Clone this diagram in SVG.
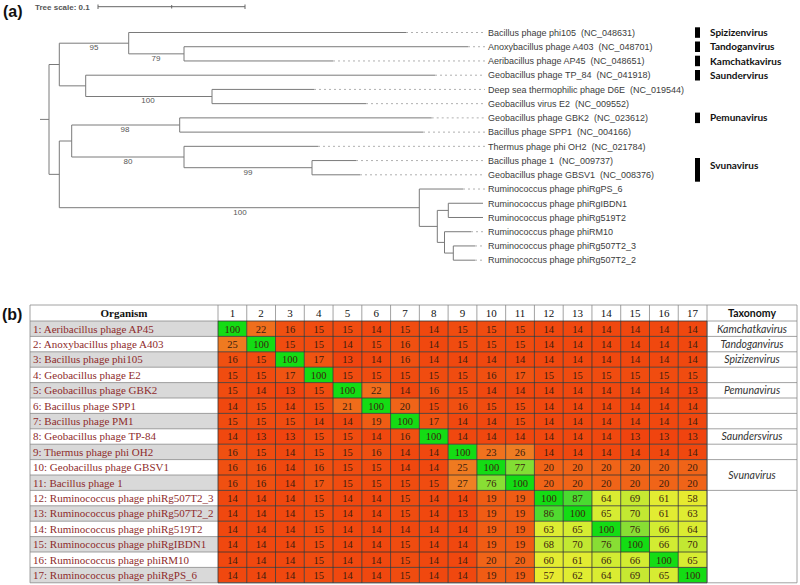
<svg xmlns="http://www.w3.org/2000/svg" width="800" height="585" viewBox="0 0 800 585">
<style>
.pl{font:bold 16px "Liberation Sans",Arial,sans-serif;fill:#111}
.br{fill:none;stroke:#7a7a7a;stroke-width:1}
.dot{fill:none;stroke:#b0b0b0;stroke-width:1;stroke-dasharray:2 3}
.lf{font:9px "Liberation Sans",Arial,sans-serif;fill:#3c3c3c;white-space:pre}
.sp{font:8px "Liberation Sans",Arial,sans-serif;fill:#555;text-anchor:middle}
.tx{font:bold 10px Lato,"Liberation Sans",sans-serif;fill:#111}
.org{font:11px "Liberation Serif","Times New Roman",serif;fill:#8e2b2b}
.hd{font:11px "Liberation Serif","Times New Roman",serif;fill:#111;text-anchor:middle}
.hdb{font-weight:bold}
.num{font:10.5px "Liberation Serif","Times New Roman",serif;fill:#3b1d0e;text-anchor:middle}
.tax{font:italic 10.5px Lato,"Liberation Sans",sans-serif;fill:#333;text-anchor:middle}
.taxh{font:bold 10.5px Lato,"Liberation Sans",sans-serif;fill:#111;text-anchor:middle}
.gray{fill:#d9d9d9}
.k13{fill:#f0440f}.k14{fill:#f0480f}.k15{fill:#f04c10}.k16{fill:#f05011}.k17{fill:#f05412}
.k19{fill:#f05c14}.k20{fill:#f06418}.k21{fill:#f06c1a}.k22{fill:#f06e1c}.k23{fill:#f0721e}
.k25{fill:#ef7a20}.k26{fill:#ef7c22}.k27{fill:#ef8024}
.k57{fill:#e8ea30}.k58{fill:#e6ea30}.k60{fill:#e4ec32}.k61{fill:#e2ec32}.k62{fill:#e0ec32}
.k63{fill:#deec32}.k64{fill:#daec32}.k65{fill:#d6ec32}.k66{fill:#d2ec32}.k68{fill:#cae832}
.k69{fill:#c6e832}.k70{fill:#c2e832}.k76{fill:#88de34}.k77{fill:#82de34}.k86{fill:#50da30}
.k87{fill:#4ada30}.k100{fill:#14dc14}
.gd{fill:none;stroke:#333;stroke-width:0.8}
.gl{fill:none;stroke:#8a8a8a;stroke-width:0.8}
</style>

<!-- Panel (a) -->
<text class="pl" x="3" y="17">(a)</text>
<g id="scale">
<text x="35" y="10" style="font:bold 8px 'Liberation Sans',Arial,sans-serif;fill:#555">Tree scale: 0.1</text>
<path d="M98,6.7H245M98,4.5V9M171.7,5V8.5M245,4.5V9" fill="none" stroke="#666" stroke-width="1"/>
</g>

<g id="connectors">
<path class="br" d="M40,119.4H49M49,64.5V174.35
M49,64.5H59.3M59.3,43.2V85.85
M59.3,43.2H128.7M128.7,32.5V53.85M128.7,32.5H406
M128.7,53.85H184M184,46.73V60.96M184,46.73H468M184,60.96H333
M59.3,85.85H85.7M85.7,75.19V96.5M85.7,75.19H435
M85.7,96.5H212M212,89.42V103.65M212,89.42H314M212,103.65H366
M49,174.35H59.3M59.3,141V207.7
M59.3,141H71.7M71.7,125V157
M71.7,125H179.7M179.7,117.88V132.11M179.7,117.88H431.7M179.7,132.11H423
M71.7,157H184M184,146.34V167.7M184,146.34H318
M184,167.7H312M312,160.57V174.8M312,160.57H356M312,174.8H360
M59.3,207.7H419.3M419.3,189.03V226.4M419.3,189.03H463
M419.3,226.4H437.3M437.3,210.4V242.4
M437.3,210.4H448.3M448.3,203.26V217.49M448.3,203.26H483M448.3,217.49H483
M437.3,242.4H444.5M444.5,231.72V253.07M444.5,231.72H471
M444.5,253.07H453.3M453.3,245.95V260.18M453.3,245.95H475M453.3,260.18H475"/>
<path class="dot" d="M406,32.5H485M468,46.73H485M333,60.96H485M435,75.19H485M314,89.42H485M366,103.65H485M431.7,117.88H485M423,132.11H485M318,146.34H485M356,160.57H485M360,174.8H485M463,189.03H485M471,231.72H485M475,245.95H485M475,260.18H485"/>
</g>

<g id="supports">
<text class="sp" x="94" y="50">95</text>
<text class="sp" x="156" y="60.5">79</text>
<text class="sp" x="148" y="103">100</text>
<text class="sp" x="125" y="131.8">98</text>
<text class="sp" x="128" y="164">80</text>
<text class="sp" x="248" y="175">99</text>
<text class="sp" x="240" y="214.6">100</text>
</g>

<g id="leaves">
<g id="leaf1"><text class="lf" x="488" y="35.7">Bacillus phage phi105  (NC_048631)</text></g>
<g id="leaf2"><text class="lf" x="488" y="49.9">Anoxybacillus phage A403  (NC_048701)</text></g>
<g id="leaf3"><text class="lf" x="488" y="64.2">Aeribacillus phage AP45  (NC_048651)</text></g>
<g id="leaf4"><text class="lf" x="488" y="78.4">Geobacillus phage TP_84  (NC_041918)</text></g>
<g id="leaf5"><text class="lf" x="488" y="92.6">Deep sea thermophilic phage D6E  (NC_019544)</text></g>
<g id="leaf6"><text class="lf" x="488" y="106.9">Geobacillus virus E2  (NC_009552)</text></g>
<g id="leaf7"><text class="lf" x="488" y="121.1">Geobacillus phage GBK2  (NC_023612)</text></g>
<g id="leaf8"><text class="lf" x="488" y="135.3">Bacillus phage SPP1  (NC_004166)</text></g>
<g id="leaf9"><text class="lf" x="488" y="149.5">Thermus phage phi OH2  (NC_021784)</text></g>
<g id="leaf10"><text class="lf" x="488" y="163.8">Bacillus phage 1  (NC_009737)</text></g>
<g id="leaf11"><text class="lf" x="488" y="178">Geobacillus phage GBSV1  (NC_008376)</text></g>
<g id="leaf12"><text class="lf" x="488" y="192.2">Ruminococcus phage phiRgPS_6</text></g>
<g id="leaf13"><text class="lf" x="488" y="206.5">Ruminococcus phage phiRgIBDN1</text></g>
<g id="leaf14"><text class="lf" x="488" y="220.7">Ruminococcus phage phiRg519T2</text></g>
<g id="leaf15"><text class="lf" x="488" y="234.9">Ruminococcus phage phiRM10</text></g>
<g id="leaf16"><text class="lf" x="488" y="249.2">Ruminococcus phage phiRg507T2_3</text></g>
<g id="leaf17"><text class="lf" x="488" y="263.4">Ruminococcus phage phiRg507T2_2</text></g>
</g>

<g id="genera">
<g id="g-spiz"><rect x="695" y="27.3" width="5" height="10.5" fill="#000"/><text class="tx" x="710" y="36">Spizizenvirus</text></g>
<g id="g-tand"><rect x="695" y="41.5" width="5" height="10.5" fill="#000"/><text class="tx" x="710" y="50.2">Tandoganvirus</text></g>
<g id="g-kamc"><rect x="695" y="55.7" width="5" height="10.5" fill="#000"/><text class="tx" x="710" y="64.5">Kamchatkavirus</text></g>
<g id="g-saun"><rect x="695" y="70" width="5" height="10.5" fill="#000"/><text class="tx" x="710" y="78.7">Saundervirus</text></g>
<g id="g-pemu"><rect x="695" y="112.6" width="5" height="10.5" fill="#000"/><text class="tx" x="710" y="121.4">Pemunavirus</text></g>
<g id="g-svun"><rect x="695" y="158" width="5" height="23.7" fill="#000"/><text class="tx" x="710" y="168.5">Svunavirus</text></g>
</g>

<!-- Panel (b) -->
<text class="pl" x="2" y="320">(b)</text>
<g id="table">
<rect x="30" y="305" width="767" height="277.8" fill="#fff"/>
<g id="header">
<text class="hd hdb" x="124" y="317">Organism</text>
<text class="hd" y="317"><tspan x="232.4">1</tspan><tspan x="261.1">2</tspan><tspan x="289.9">3</tspan><tspan x="318.7">4</tspan><tspan x="347.4">5</tspan><tspan x="376.2">6</tspan><tspan x="405">7</tspan><tspan x="433.7">8</tspan><tspan x="462.5">9</tspan><tspan x="491.3">10</tspan><tspan x="520">11</tspan><tspan x="548.8">12</tspan><tspan x="577.6">13</tspan><tspan x="606.3">14</tspan><tspan x="635.1">15</tspan><tspan x="663.9">16</tspan><tspan x="692.6">17</tspan></text>
<text class="taxh" x="752" y="317">Taxonomy</text>
</g>

<g id="row1" transform="translate(0,321)">
<rect class="gray" x="30" width="188" height="15.4"/>
<rect x="218" width="28.8" height="15.4" class="k100"/><rect x="246.76" width="28.8" height="15.4" class="k22"/><rect x="275.53" width="28.8" height="15.4" class="k16"/><rect x="304.29" width="28.8" height="15.4" class="k15"/><rect x="333.06" width="28.8" height="15.4" class="k15"/><rect x="361.82" width="28.8" height="15.4" class="k14"/><rect x="390.59" width="28.8" height="15.4" class="k15"/><rect x="419.35" width="28.8" height="15.4" class="k14"/><rect x="448.12" width="28.8" height="15.4" class="k15"/><rect x="476.88" width="28.8" height="15.4" class="k15"/><rect x="505.65" width="28.8" height="15.4" class="k15"/><rect x="534.41" width="28.8" height="15.4" class="k14"/><rect x="563.18" width="28.8" height="15.4" class="k14"/><rect x="591.94" width="28.8" height="15.4" class="k14"/><rect x="620.71" width="28.8" height="15.4" class="k14"/><rect x="649.47" width="28.8" height="15.4" class="k14"/><rect x="678.24" width="28.8" height="15.4" class="k14"/>
<text class="org" x="33" y="11.5">1: Aeribacillus phage AP45</text>
<text class="num" y="11.5"><tspan x="232.4">100</tspan><tspan x="261.1">22</tspan><tspan x="289.9">16</tspan><tspan x="318.7">15</tspan><tspan x="347.4">15</tspan><tspan x="376.2">14</tspan><tspan x="405">15</tspan><tspan x="433.7">14</tspan><tspan x="462.5">15</tspan><tspan x="491.3">15</tspan><tspan x="520">15</tspan><tspan x="548.8">14</tspan><tspan x="577.6">14</tspan><tspan x="606.3">14</tspan><tspan x="635.1">14</tspan><tspan x="663.9">14</tspan><tspan x="692.6">14</tspan></text>
<text class="tax" x="752" y="11.5">Kamchatkavirus</text>
</g>

<g id="row2" transform="translate(0,336.4)">
<rect x="218" width="28.8" height="15.4" class="k25"/><rect x="246.76" width="28.8" height="15.4" class="k100"/><rect x="275.53" width="28.8" height="15.4" class="k15"/><rect x="304.29" width="28.8" height="15.4" class="k15"/><rect x="333.06" width="28.8" height="15.4" class="k14"/><rect x="361.82" width="28.8" height="15.4" class="k15"/><rect x="390.59" width="28.8" height="15.4" class="k16"/><rect x="419.35" width="28.8" height="15.4" class="k14"/><rect x="448.12" width="28.8" height="15.4" class="k15"/><rect x="476.88" width="28.8" height="15.4" class="k15"/><rect x="505.65" width="28.8" height="15.4" class="k15"/><rect x="534.41" width="28.8" height="15.4" class="k14"/><rect x="563.18" width="28.8" height="15.4" class="k14"/><rect x="591.94" width="28.8" height="15.4" class="k14"/><rect x="620.71" width="28.8" height="15.4" class="k14"/><rect x="649.47" width="28.8" height="15.4" class="k14"/><rect x="678.24" width="28.8" height="15.4" class="k14"/>
<text class="org" x="33" y="11.5">2: Anoxybacillus phage A403</text>
<text class="num" y="11.5"><tspan x="232.4">25</tspan><tspan x="261.1">100</tspan><tspan x="289.9">15</tspan><tspan x="318.7">15</tspan><tspan x="347.4">14</tspan><tspan x="376.2">15</tspan><tspan x="405">16</tspan><tspan x="433.7">14</tspan><tspan x="462.5">15</tspan><tspan x="491.3">15</tspan><tspan x="520">15</tspan><tspan x="548.8">14</tspan><tspan x="577.6">14</tspan><tspan x="606.3">14</tspan><tspan x="635.1">14</tspan><tspan x="663.9">14</tspan><tspan x="692.6">14</tspan></text>
<text class="tax" x="752" y="11.5">Tandoganvirus</text>
</g>

<g id="row3" transform="translate(0,351.8)">
<rect class="gray" x="30" width="188" height="15.4"/>
<rect x="218" width="28.8" height="15.4" class="k16"/><rect x="246.76" width="28.8" height="15.4" class="k15"/><rect x="275.53" width="28.8" height="15.4" class="k100"/><rect x="304.29" width="28.8" height="15.4" class="k17"/><rect x="333.06" width="28.8" height="15.4" class="k13"/><rect x="361.82" width="28.8" height="15.4" class="k14"/><rect x="390.59" width="28.8" height="15.4" class="k16"/><rect x="419.35" width="28.8" height="15.4" class="k14"/><rect x="448.12" width="28.8" height="15.4" class="k14"/><rect x="476.88" width="28.8" height="15.4" class="k14"/><rect x="505.65" width="28.8" height="15.4" class="k14"/><rect x="534.41" width="28.8" height="15.4" class="k14"/><rect x="563.18" width="28.8" height="15.4" class="k14"/><rect x="591.94" width="28.8" height="15.4" class="k14"/><rect x="620.71" width="28.8" height="15.4" class="k14"/><rect x="649.47" width="28.8" height="15.4" class="k14"/><rect x="678.24" width="28.8" height="15.4" class="k14"/>
<text class="org" x="33" y="11.5">3: Bacillus phage phi105</text>
<text class="num" y="11.5"><tspan x="232.4">16</tspan><tspan x="261.1">15</tspan><tspan x="289.9">100</tspan><tspan x="318.7">17</tspan><tspan x="347.4">13</tspan><tspan x="376.2">14</tspan><tspan x="405">16</tspan><tspan x="433.7">14</tspan><tspan x="462.5">14</tspan><tspan x="491.3">14</tspan><tspan x="520">14</tspan><tspan x="548.8">14</tspan><tspan x="577.6">14</tspan><tspan x="606.3">14</tspan><tspan x="635.1">14</tspan><tspan x="663.9">14</tspan><tspan x="692.6">14</tspan></text>
<text class="tax" x="752" y="11.5">Spizizenvirus</text>
</g>

<g id="row4" transform="translate(0,367.2)">
<rect x="218" width="28.8" height="15.4" class="k15"/><rect x="246.76" width="28.8" height="15.4" class="k15"/><rect x="275.53" width="28.8" height="15.4" class="k17"/><rect x="304.29" width="28.8" height="15.4" class="k100"/><rect x="333.06" width="28.8" height="15.4" class="k15"/><rect x="361.82" width="28.8" height="15.4" class="k15"/><rect x="390.59" width="28.8" height="15.4" class="k15"/><rect x="419.35" width="28.8" height="15.4" class="k15"/><rect x="448.12" width="28.8" height="15.4" class="k15"/><rect x="476.88" width="28.8" height="15.4" class="k16"/><rect x="505.65" width="28.8" height="15.4" class="k17"/><rect x="534.41" width="28.8" height="15.4" class="k15"/><rect x="563.18" width="28.8" height="15.4" class="k15"/><rect x="591.94" width="28.8" height="15.4" class="k15"/><rect x="620.71" width="28.8" height="15.4" class="k15"/><rect x="649.47" width="28.8" height="15.4" class="k15"/><rect x="678.24" width="28.8" height="15.4" class="k15"/>
<text class="org" x="33" y="11.5">4: Geobacillus phage E2</text>
<text class="num" y="11.5"><tspan x="232.4">15</tspan><tspan x="261.1">15</tspan><tspan x="289.9">17</tspan><tspan x="318.7">100</tspan><tspan x="347.4">15</tspan><tspan x="376.2">15</tspan><tspan x="405">15</tspan><tspan x="433.7">15</tspan><tspan x="462.5">15</tspan><tspan x="491.3">16</tspan><tspan x="520">17</tspan><tspan x="548.8">15</tspan><tspan x="577.6">15</tspan><tspan x="606.3">15</tspan><tspan x="635.1">15</tspan><tspan x="663.9">15</tspan><tspan x="692.6">15</tspan></text>
</g>

<g id="row5" transform="translate(0,382.6)">
<rect class="gray" x="30" width="188" height="15.4"/>
<rect x="218" width="28.8" height="15.4" class="k15"/><rect x="246.76" width="28.8" height="15.4" class="k14"/><rect x="275.53" width="28.8" height="15.4" class="k13"/><rect x="304.29" width="28.8" height="15.4" class="k15"/><rect x="333.06" width="28.8" height="15.4" class="k100"/><rect x="361.82" width="28.8" height="15.4" class="k22"/><rect x="390.59" width="28.8" height="15.4" class="k14"/><rect x="419.35" width="28.8" height="15.4" class="k16"/><rect x="448.12" width="28.8" height="15.4" class="k15"/><rect x="476.88" width="28.8" height="15.4" class="k14"/><rect x="505.65" width="28.8" height="15.4" class="k14"/><rect x="534.41" width="28.8" height="15.4" class="k14"/><rect x="563.18" width="28.8" height="15.4" class="k14"/><rect x="591.94" width="28.8" height="15.4" class="k14"/><rect x="620.71" width="28.8" height="15.4" class="k14"/><rect x="649.47" width="28.8" height="15.4" class="k14"/><rect x="678.24" width="28.8" height="15.4" class="k13"/>
<text class="org" x="33" y="11.5">5: Geobacillus phage GBK2</text>
<text class="num" y="11.5"><tspan x="232.4">15</tspan><tspan x="261.1">14</tspan><tspan x="289.9">13</tspan><tspan x="318.7">15</tspan><tspan x="347.4">100</tspan><tspan x="376.2">22</tspan><tspan x="405">14</tspan><tspan x="433.7">16</tspan><tspan x="462.5">15</tspan><tspan x="491.3">14</tspan><tspan x="520">14</tspan><tspan x="548.8">14</tspan><tspan x="577.6">14</tspan><tspan x="606.3">14</tspan><tspan x="635.1">14</tspan><tspan x="663.9">14</tspan><tspan x="692.6">13</tspan></text>
<text class="tax" x="752" y="11.5">Pemunavirus</text>
</g>

<g id="row6" transform="translate(0,398)">
<rect x="218" width="28.8" height="15.4" class="k14"/><rect x="246.76" width="28.8" height="15.4" class="k15"/><rect x="275.53" width="28.8" height="15.4" class="k14"/><rect x="304.29" width="28.8" height="15.4" class="k15"/><rect x="333.06" width="28.8" height="15.4" class="k21"/><rect x="361.82" width="28.8" height="15.4" class="k100"/><rect x="390.59" width="28.8" height="15.4" class="k20"/><rect x="419.35" width="28.8" height="15.4" class="k15"/><rect x="448.12" width="28.8" height="15.4" class="k16"/><rect x="476.88" width="28.8" height="15.4" class="k15"/><rect x="505.65" width="28.8" height="15.4" class="k15"/><rect x="534.41" width="28.8" height="15.4" class="k14"/><rect x="563.18" width="28.8" height="15.4" class="k14"/><rect x="591.94" width="28.8" height="15.4" class="k14"/><rect x="620.71" width="28.8" height="15.4" class="k14"/><rect x="649.47" width="28.8" height="15.4" class="k14"/><rect x="678.24" width="28.8" height="15.4" class="k14"/>
<text class="org" x="33" y="11.5">6: Bacillus phage SPP1</text>
<text class="num" y="11.5"><tspan x="232.4">14</tspan><tspan x="261.1">15</tspan><tspan x="289.9">14</tspan><tspan x="318.7">15</tspan><tspan x="347.4">21</tspan><tspan x="376.2">100</tspan><tspan x="405">20</tspan><tspan x="433.7">15</tspan><tspan x="462.5">16</tspan><tspan x="491.3">15</tspan><tspan x="520">15</tspan><tspan x="548.8">14</tspan><tspan x="577.6">14</tspan><tspan x="606.3">14</tspan><tspan x="635.1">14</tspan><tspan x="663.9">14</tspan><tspan x="692.6">14</tspan></text>
</g>

<g id="row7" transform="translate(0,413.4)">
<rect class="gray" x="30" width="188" height="15.4"/>
<rect x="218" width="28.8" height="15.4" class="k15"/><rect x="246.76" width="28.8" height="15.4" class="k15"/><rect x="275.53" width="28.8" height="15.4" class="k15"/><rect x="304.29" width="28.8" height="15.4" class="k14"/><rect x="333.06" width="28.8" height="15.4" class="k14"/><rect x="361.82" width="28.8" height="15.4" class="k19"/><rect x="390.59" width="28.8" height="15.4" class="k100"/><rect x="419.35" width="28.8" height="15.4" class="k17"/><rect x="448.12" width="28.8" height="15.4" class="k14"/><rect x="476.88" width="28.8" height="15.4" class="k14"/><rect x="505.65" width="28.8" height="15.4" class="k15"/><rect x="534.41" width="28.8" height="15.4" class="k14"/><rect x="563.18" width="28.8" height="15.4" class="k14"/><rect x="591.94" width="28.8" height="15.4" class="k14"/><rect x="620.71" width="28.8" height="15.4" class="k14"/><rect x="649.47" width="28.8" height="15.4" class="k14"/><rect x="678.24" width="28.8" height="15.4" class="k14"/>
<text class="org" x="33" y="11.5">7: Bacillus phage PM1</text>
<text class="num" y="11.5"><tspan x="232.4">15</tspan><tspan x="261.1">15</tspan><tspan x="289.9">15</tspan><tspan x="318.7">14</tspan><tspan x="347.4">14</tspan><tspan x="376.2">19</tspan><tspan x="405">100</tspan><tspan x="433.7">17</tspan><tspan x="462.5">14</tspan><tspan x="491.3">14</tspan><tspan x="520">15</tspan><tspan x="548.8">14</tspan><tspan x="577.6">14</tspan><tspan x="606.3">14</tspan><tspan x="635.1">14</tspan><tspan x="663.9">14</tspan><tspan x="692.6">14</tspan></text>
</g>

<g id="row8" transform="translate(0,428.8)">
<rect x="218" width="28.8" height="15.4" class="k14"/><rect x="246.76" width="28.8" height="15.4" class="k13"/><rect x="275.53" width="28.8" height="15.4" class="k13"/><rect x="304.29" width="28.8" height="15.4" class="k15"/><rect x="333.06" width="28.8" height="15.4" class="k15"/><rect x="361.82" width="28.8" height="15.4" class="k14"/><rect x="390.59" width="28.8" height="15.4" class="k16"/><rect x="419.35" width="28.8" height="15.4" class="k100"/><rect x="448.12" width="28.8" height="15.4" class="k14"/><rect x="476.88" width="28.8" height="15.4" class="k14"/><rect x="505.65" width="28.8" height="15.4" class="k14"/><rect x="534.41" width="28.8" height="15.4" class="k14"/><rect x="563.18" width="28.8" height="15.4" class="k14"/><rect x="591.94" width="28.8" height="15.4" class="k14"/><rect x="620.71" width="28.8" height="15.4" class="k13"/><rect x="649.47" width="28.8" height="15.4" class="k13"/><rect x="678.24" width="28.8" height="15.4" class="k13"/>
<text class="org" x="33" y="11.5">8: Geobacillus phage TP-84</text>
<text class="num" y="11.5"><tspan x="232.4">14</tspan><tspan x="261.1">13</tspan><tspan x="289.9">13</tspan><tspan x="318.7">15</tspan><tspan x="347.4">15</tspan><tspan x="376.2">14</tspan><tspan x="405">16</tspan><tspan x="433.7">100</tspan><tspan x="462.5">14</tspan><tspan x="491.3">14</tspan><tspan x="520">14</tspan><tspan x="548.8">14</tspan><tspan x="577.6">14</tspan><tspan x="606.3">14</tspan><tspan x="635.1">13</tspan><tspan x="663.9">13</tspan><tspan x="692.6">13</tspan></text>
<text class="tax" x="752" y="11.5">Saundersvirus</text>
</g>

<g id="row9" transform="translate(0,444.2)">
<rect class="gray" x="30" width="188" height="15.4"/>
<rect x="218" width="28.8" height="15.4" class="k16"/><rect x="246.76" width="28.8" height="15.4" class="k15"/><rect x="275.53" width="28.8" height="15.4" class="k14"/><rect x="304.29" width="28.8" height="15.4" class="k15"/><rect x="333.06" width="28.8" height="15.4" class="k15"/><rect x="361.82" width="28.8" height="15.4" class="k16"/><rect x="390.59" width="28.8" height="15.4" class="k14"/><rect x="419.35" width="28.8" height="15.4" class="k14"/><rect x="448.12" width="28.8" height="15.4" class="k100"/><rect x="476.88" width="28.8" height="15.4" class="k23"/><rect x="505.65" width="28.8" height="15.4" class="k26"/><rect x="534.41" width="28.8" height="15.4" class="k14"/><rect x="563.18" width="28.8" height="15.4" class="k14"/><rect x="591.94" width="28.8" height="15.4" class="k14"/><rect x="620.71" width="28.8" height="15.4" class="k14"/><rect x="649.47" width="28.8" height="15.4" class="k14"/><rect x="678.24" width="28.8" height="15.4" class="k14"/>
<text class="org" x="33" y="11.5">9: Thermus phage phi OH2</text>
<text class="num" y="11.5"><tspan x="232.4">16</tspan><tspan x="261.1">15</tspan><tspan x="289.9">14</tspan><tspan x="318.7">15</tspan><tspan x="347.4">15</tspan><tspan x="376.2">16</tspan><tspan x="405">14</tspan><tspan x="433.7">14</tspan><tspan x="462.5">100</tspan><tspan x="491.3">23</tspan><tspan x="520">26</tspan><tspan x="548.8">14</tspan><tspan x="577.6">14</tspan><tspan x="606.3">14</tspan><tspan x="635.1">14</tspan><tspan x="663.9">14</tspan><tspan x="692.6">14</tspan></text>
</g>

<g id="row10" transform="translate(0,459.6)">
<rect x="218" width="28.8" height="15.4" class="k16"/><rect x="246.76" width="28.8" height="15.4" class="k16"/><rect x="275.53" width="28.8" height="15.4" class="k14"/><rect x="304.29" width="28.8" height="15.4" class="k16"/><rect x="333.06" width="28.8" height="15.4" class="k15"/><rect x="361.82" width="28.8" height="15.4" class="k15"/><rect x="390.59" width="28.8" height="15.4" class="k14"/><rect x="419.35" width="28.8" height="15.4" class="k14"/><rect x="448.12" width="28.8" height="15.4" class="k25"/><rect x="476.88" width="28.8" height="15.4" class="k100"/><rect x="505.65" width="28.8" height="15.4" class="k77"/><rect x="534.41" width="28.8" height="15.4" class="k20"/><rect x="563.18" width="28.8" height="15.4" class="k20"/><rect x="591.94" width="28.8" height="15.4" class="k20"/><rect x="620.71" width="28.8" height="15.4" class="k20"/><rect x="649.47" width="28.8" height="15.4" class="k20"/><rect x="678.24" width="28.8" height="15.4" class="k20"/>
<text class="org" x="33" y="11.5">10: Geobacillus phage GBSV1</text>
<text class="num" y="11.5"><tspan x="232.4">16</tspan><tspan x="261.1">16</tspan><tspan x="289.9">14</tspan><tspan x="318.7">16</tspan><tspan x="347.4">15</tspan><tspan x="376.2">15</tspan><tspan x="405">14</tspan><tspan x="433.7">14</tspan><tspan x="462.5">25</tspan><tspan x="491.3">100</tspan><tspan x="520">77</tspan><tspan x="548.8">20</tspan><tspan x="577.6">20</tspan><tspan x="606.3">20</tspan><tspan x="635.1">20</tspan><tspan x="663.9">20</tspan><tspan x="692.6">20</tspan></text>
<text class="tax" x="752" y="19.2">Svunavirus</text>
</g>

<g id="row11" transform="translate(0,475)">
<rect class="gray" x="30" width="188" height="15.4"/>
<rect x="218" width="28.8" height="15.4" class="k16"/><rect x="246.76" width="28.8" height="15.4" class="k16"/><rect x="275.53" width="28.8" height="15.4" class="k14"/><rect x="304.29" width="28.8" height="15.4" class="k17"/><rect x="333.06" width="28.8" height="15.4" class="k15"/><rect x="361.82" width="28.8" height="15.4" class="k15"/><rect x="390.59" width="28.8" height="15.4" class="k15"/><rect x="419.35" width="28.8" height="15.4" class="k15"/><rect x="448.12" width="28.8" height="15.4" class="k27"/><rect x="476.88" width="28.8" height="15.4" class="k76"/><rect x="505.65" width="28.8" height="15.4" class="k100"/><rect x="534.41" width="28.8" height="15.4" class="k20"/><rect x="563.18" width="28.8" height="15.4" class="k20"/><rect x="591.94" width="28.8" height="15.4" class="k20"/><rect x="620.71" width="28.8" height="15.4" class="k20"/><rect x="649.47" width="28.8" height="15.4" class="k20"/><rect x="678.24" width="28.8" height="15.4" class="k20"/>
<text class="org" x="33" y="11.5">11: Bacillus phage 1</text>
<text class="num" y="11.5"><tspan x="232.4">16</tspan><tspan x="261.1">16</tspan><tspan x="289.9">14</tspan><tspan x="318.7">17</tspan><tspan x="347.4">15</tspan><tspan x="376.2">15</tspan><tspan x="405">15</tspan><tspan x="433.7">15</tspan><tspan x="462.5">27</tspan><tspan x="491.3">76</tspan><tspan x="520">100</tspan><tspan x="548.8">20</tspan><tspan x="577.6">20</tspan><tspan x="606.3">20</tspan><tspan x="635.1">20</tspan><tspan x="663.9">20</tspan><tspan x="692.6">20</tspan></text>
</g>

<g id="row12" transform="translate(0,490.4)">
<rect x="218" width="28.8" height="15.4" class="k14"/><rect x="246.76" width="28.8" height="15.4" class="k14"/><rect x="275.53" width="28.8" height="15.4" class="k14"/><rect x="304.29" width="28.8" height="15.4" class="k15"/><rect x="333.06" width="28.8" height="15.4" class="k14"/><rect x="361.82" width="28.8" height="15.4" class="k14"/><rect x="390.59" width="28.8" height="15.4" class="k15"/><rect x="419.35" width="28.8" height="15.4" class="k14"/><rect x="448.12" width="28.8" height="15.4" class="k14"/><rect x="476.88" width="28.8" height="15.4" class="k19"/><rect x="505.65" width="28.8" height="15.4" class="k19"/><rect x="534.41" width="28.8" height="15.4" class="k100"/><rect x="563.18" width="28.8" height="15.4" class="k87"/><rect x="591.94" width="28.8" height="15.4" class="k64"/><rect x="620.71" width="28.8" height="15.4" class="k69"/><rect x="649.47" width="28.8" height="15.4" class="k61"/><rect x="678.24" width="28.8" height="15.4" class="k58"/>
<text class="org" x="33" y="11.5">12: Ruminococcus phage phiRg507T2_3</text>
<text class="num" y="11.5"><tspan x="232.4">14</tspan><tspan x="261.1">14</tspan><tspan x="289.9">14</tspan><tspan x="318.7">15</tspan><tspan x="347.4">14</tspan><tspan x="376.2">14</tspan><tspan x="405">15</tspan><tspan x="433.7">14</tspan><tspan x="462.5">14</tspan><tspan x="491.3">19</tspan><tspan x="520">19</tspan><tspan x="548.8">100</tspan><tspan x="577.6">87</tspan><tspan x="606.3">64</tspan><tspan x="635.1">69</tspan><tspan x="663.9">61</tspan><tspan x="692.6">58</tspan></text>
</g>

<g id="row13" transform="translate(0,505.8)">
<rect class="gray" x="30" width="188" height="15.4"/>
<rect x="218" width="28.8" height="15.4" class="k14"/><rect x="246.76" width="28.8" height="15.4" class="k14"/><rect x="275.53" width="28.8" height="15.4" class="k14"/><rect x="304.29" width="28.8" height="15.4" class="k15"/><rect x="333.06" width="28.8" height="15.4" class="k14"/><rect x="361.82" width="28.8" height="15.4" class="k14"/><rect x="390.59" width="28.8" height="15.4" class="k15"/><rect x="419.35" width="28.8" height="15.4" class="k14"/><rect x="448.12" width="28.8" height="15.4" class="k13"/><rect x="476.88" width="28.8" height="15.4" class="k19"/><rect x="505.65" width="28.8" height="15.4" class="k19"/><rect x="534.41" width="28.8" height="15.4" class="k86"/><rect x="563.18" width="28.8" height="15.4" class="k100"/><rect x="591.94" width="28.8" height="15.4" class="k65"/><rect x="620.71" width="28.8" height="15.4" class="k70"/><rect x="649.47" width="28.8" height="15.4" class="k61"/><rect x="678.24" width="28.8" height="15.4" class="k63"/>
<text class="org" x="33" y="11.5">13: Ruminococcus phage phiRg507T2_2</text>
<text class="num" y="11.5"><tspan x="232.4">14</tspan><tspan x="261.1">14</tspan><tspan x="289.9">14</tspan><tspan x="318.7">15</tspan><tspan x="347.4">14</tspan><tspan x="376.2">14</tspan><tspan x="405">15</tspan><tspan x="433.7">14</tspan><tspan x="462.5">13</tspan><tspan x="491.3">19</tspan><tspan x="520">19</tspan><tspan x="548.8">86</tspan><tspan x="577.6">100</tspan><tspan x="606.3">65</tspan><tspan x="635.1">70</tspan><tspan x="663.9">61</tspan><tspan x="692.6">63</tspan></text>
</g>

<g id="row14" transform="translate(0,521.2)">
<rect x="218" width="28.8" height="15.4" class="k14"/><rect x="246.76" width="28.8" height="15.4" class="k14"/><rect x="275.53" width="28.8" height="15.4" class="k14"/><rect x="304.29" width="28.8" height="15.4" class="k15"/><rect x="333.06" width="28.8" height="15.4" class="k14"/><rect x="361.82" width="28.8" height="15.4" class="k14"/><rect x="390.59" width="28.8" height="15.4" class="k14"/><rect x="419.35" width="28.8" height="15.4" class="k14"/><rect x="448.12" width="28.8" height="15.4" class="k14"/><rect x="476.88" width="28.8" height="15.4" class="k19"/><rect x="505.65" width="28.8" height="15.4" class="k19"/><rect x="534.41" width="28.8" height="15.4" class="k63"/><rect x="563.18" width="28.8" height="15.4" class="k65"/><rect x="591.94" width="28.8" height="15.4" class="k100"/><rect x="620.71" width="28.8" height="15.4" class="k76"/><rect x="649.47" width="28.8" height="15.4" class="k66"/><rect x="678.24" width="28.8" height="15.4" class="k64"/>
<text class="org" x="33" y="11.5">14: Ruminococcus phage phiRg519T2</text>
<text class="num" y="11.5"><tspan x="232.4">14</tspan><tspan x="261.1">14</tspan><tspan x="289.9">14</tspan><tspan x="318.7">15</tspan><tspan x="347.4">14</tspan><tspan x="376.2">14</tspan><tspan x="405">14</tspan><tspan x="433.7">14</tspan><tspan x="462.5">14</tspan><tspan x="491.3">19</tspan><tspan x="520">19</tspan><tspan x="548.8">63</tspan><tspan x="577.6">65</tspan><tspan x="606.3">100</tspan><tspan x="635.1">76</tspan><tspan x="663.9">66</tspan><tspan x="692.6">64</tspan></text>
</g>

<g id="row15" transform="translate(0,536.6)">
<rect class="gray" x="30" width="188" height="15.4"/>
<rect x="218" width="28.8" height="15.4" class="k14"/><rect x="246.76" width="28.8" height="15.4" class="k14"/><rect x="275.53" width="28.8" height="15.4" class="k14"/><rect x="304.29" width="28.8" height="15.4" class="k15"/><rect x="333.06" width="28.8" height="15.4" class="k14"/><rect x="361.82" width="28.8" height="15.4" class="k14"/><rect x="390.59" width="28.8" height="15.4" class="k15"/><rect x="419.35" width="28.8" height="15.4" class="k14"/><rect x="448.12" width="28.8" height="15.4" class="k14"/><rect x="476.88" width="28.8" height="15.4" class="k19"/><rect x="505.65" width="28.8" height="15.4" class="k19"/><rect x="534.41" width="28.8" height="15.4" class="k68"/><rect x="563.18" width="28.8" height="15.4" class="k70"/><rect x="591.94" width="28.8" height="15.4" class="k76"/><rect x="620.71" width="28.8" height="15.4" class="k100"/><rect x="649.47" width="28.8" height="15.4" class="k66"/><rect x="678.24" width="28.8" height="15.4" class="k70"/>
<text class="org" x="33" y="11.5">15: Ruminococcus phage phiRgIBDN1</text>
<text class="num" y="11.5"><tspan x="232.4">14</tspan><tspan x="261.1">14</tspan><tspan x="289.9">14</tspan><tspan x="318.7">15</tspan><tspan x="347.4">14</tspan><tspan x="376.2">14</tspan><tspan x="405">15</tspan><tspan x="433.7">14</tspan><tspan x="462.5">14</tspan><tspan x="491.3">19</tspan><tspan x="520">19</tspan><tspan x="548.8">68</tspan><tspan x="577.6">70</tspan><tspan x="606.3">76</tspan><tspan x="635.1">100</tspan><tspan x="663.9">66</tspan><tspan x="692.6">70</tspan></text>
</g>

<g id="row16" transform="translate(0,552)">
<rect x="218" width="28.8" height="15.4" class="k14"/><rect x="246.76" width="28.8" height="15.4" class="k14"/><rect x="275.53" width="28.8" height="15.4" class="k14"/><rect x="304.29" width="28.8" height="15.4" class="k15"/><rect x="333.06" width="28.8" height="15.4" class="k14"/><rect x="361.82" width="28.8" height="15.4" class="k14"/><rect x="390.59" width="28.8" height="15.4" class="k15"/><rect x="419.35" width="28.8" height="15.4" class="k14"/><rect x="448.12" width="28.8" height="15.4" class="k14"/><rect x="476.88" width="28.8" height="15.4" class="k20"/><rect x="505.65" width="28.8" height="15.4" class="k20"/><rect x="534.41" width="28.8" height="15.4" class="k60"/><rect x="563.18" width="28.8" height="15.4" class="k61"/><rect x="591.94" width="28.8" height="15.4" class="k66"/><rect x="620.71" width="28.8" height="15.4" class="k66"/><rect x="649.47" width="28.8" height="15.4" class="k100"/><rect x="678.24" width="28.8" height="15.4" class="k65"/>
<text class="org" x="33" y="11.5">16: Ruminococcus phage phiRM10</text>
<text class="num" y="11.5"><tspan x="232.4">14</tspan><tspan x="261.1">14</tspan><tspan x="289.9">14</tspan><tspan x="318.7">15</tspan><tspan x="347.4">14</tspan><tspan x="376.2">14</tspan><tspan x="405">15</tspan><tspan x="433.7">14</tspan><tspan x="462.5">14</tspan><tspan x="491.3">20</tspan><tspan x="520">20</tspan><tspan x="548.8">60</tspan><tspan x="577.6">61</tspan><tspan x="606.3">66</tspan><tspan x="635.1">66</tspan><tspan x="663.9">100</tspan><tspan x="692.6">65</tspan></text>
</g>

<g id="row17" transform="translate(0,567.4)">
<rect class="gray" x="30" width="188" height="15.4"/>
<rect x="218" width="28.8" height="15.4" class="k14"/><rect x="246.76" width="28.8" height="15.4" class="k14"/><rect x="275.53" width="28.8" height="15.4" class="k14"/><rect x="304.29" width="28.8" height="15.4" class="k15"/><rect x="333.06" width="28.8" height="15.4" class="k14"/><rect x="361.82" width="28.8" height="15.4" class="k14"/><rect x="390.59" width="28.8" height="15.4" class="k15"/><rect x="419.35" width="28.8" height="15.4" class="k14"/><rect x="448.12" width="28.8" height="15.4" class="k14"/><rect x="476.88" width="28.8" height="15.4" class="k19"/><rect x="505.65" width="28.8" height="15.4" class="k19"/><rect x="534.41" width="28.8" height="15.4" class="k57"/><rect x="563.18" width="28.8" height="15.4" class="k62"/><rect x="591.94" width="28.8" height="15.4" class="k64"/><rect x="620.71" width="28.8" height="15.4" class="k69"/><rect x="649.47" width="28.8" height="15.4" class="k65"/><rect x="678.24" width="28.8" height="15.4" class="k100"/>
<text class="org" x="33" y="11.5">17: Ruminococcus phage phiRgPS_6</text>
<text class="num" y="11.5"><tspan x="232.4">14</tspan><tspan x="261.1">14</tspan><tspan x="289.9">14</tspan><tspan x="318.7">15</tspan><tspan x="347.4">14</tspan><tspan x="376.2">14</tspan><tspan x="405">15</tspan><tspan x="433.7">14</tspan><tspan x="462.5">14</tspan><tspan x="491.3">19</tspan><tspan x="520">19</tspan><tspan x="548.8">57</tspan><tspan x="577.6">62</tspan><tspan x="606.3">64</tspan><tspan x="635.1">69</tspan><tspan x="663.9">65</tspan><tspan x="692.6">100</tspan></text>
</g>

<g id="grid">
<path class="gl" d="M30,305H797V582.8H30Z M218,305V321M246.76,305V321M275.53,305V321M304.29,305V321M333.06,305V321M361.82,305V321M390.59,305V321M419.35,305V321M448.12,305V321M476.88,305V321M505.65,305V321M534.41,305V321M563.18,305V321M591.94,305V321M620.71,305V321M649.47,305V321M678.24,305V321M707,305V582.8
M30,321H218M30,336.4H218M30,351.8H218M30,367.2H218M30,382.6H218M30,398H218M30,413.4H218M30,428.8H218M30,444.2H218M30,459.6H218M30,475H218M30,490.4H218M30,505.8H218M30,521.2H218M30,536.6H218M30,552H218M30,567.4H218
M707,321H797M707,336.4H797M707,351.8H797M707,367.2H797M707,382.6H797M707,398H797M707,413.4H797M707,428.8H797M707,444.2H797M707,459.6H797M707,490.4H797"/>
<path class="gd" d="M218,321V582.8M246.76,321V582.8M275.53,321V582.8M304.29,321V582.8M333.06,321V582.8M361.82,321V582.8M390.59,321V582.8M419.35,321V582.8M448.12,321V582.8M476.88,321V582.8M505.65,321V582.8M534.41,321V582.8M563.18,321V582.8M591.94,321V582.8M620.71,321V582.8M649.47,321V582.8M678.24,321V582.8M707,321V582.8
M218,321H707M218,336.4H707M218,351.8H707M218,367.2H707M218,382.6H707M218,398H707M218,413.4H707M218,428.8H707M218,444.2H707M218,459.6H707M218,475H707M218,490.4H707M218,505.8H707M218,521.2H707M218,536.6H707M218,552H707M218,567.4H707M218,582.8H707"/>
</g>
</g>
</svg>
